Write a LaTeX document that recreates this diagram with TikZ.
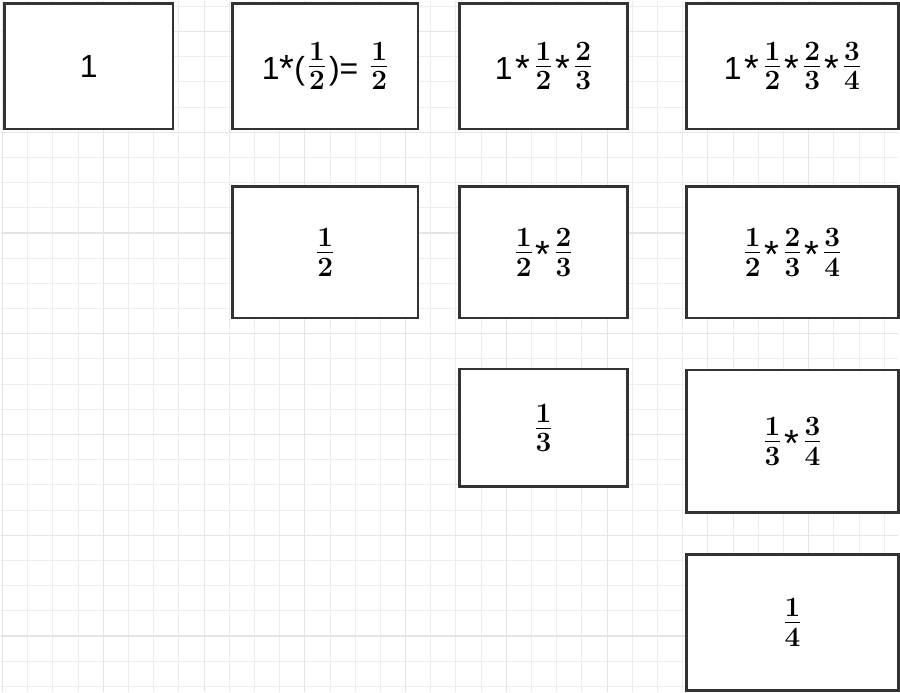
\documentclass[tikz,border=0pt]{standalone}
\usepackage{fix-cm}
\usepackage[no-math]{fontspec}
\setmainfont{Liberation Sans}
\usetikzlibrary{positioning}
\newcommand{\bfrac}[2]{{\fontsize{40}{44}\selectfont\raisebox{3pt}{$\frac{\mathbf{#1}}{\mathbf{#2}}$}}}
\newcommand{\tms}{\hspace{3pt}\raisebox{-2pt}{\fontsize{38}{38}\selectfont*}\hspace{4pt}}

\begin{document}
\begin{tikzpicture}[
  x=1pt, y=-1pt,
  cell/.style={draw=black!80, line width=2.6pt, fill=white, inner sep=0pt,
               anchor=north west, align=center, font=\fontsize{32}{38}\selectfont},
  minorline/.style={draw=black!7, line width=1pt},
  majorline/.style={draw=black!10, line width=1.2pt},
]

% === Background grid ===
\fill[white] (0,0) rectangle (900,693);
\foreach \i in {0,...,35} \draw[minorline] ({2+25.25*\i},0) -- ({2+25.25*\i},693);
\foreach \j in {-1,...,26} \draw[minorline] (0,{31+25.25*\j}) -- (900,{31+25.25*\j});
\foreach \i in {0,...,8} \draw[majorline] ({2+101*\i},0) -- ({2+101*\i},693);
\foreach \j in {0,...,6} \draw[majorline] (0,{31+101*\j}) -- (900,{31+101*\j});

% === Row 1 ===
\node[cell, minimum width=169pt, minimum height=126pt] (a1) at (2.5,1.5) {1};
\node[cell, minimum width=186pt, minimum height=126pt] (b1) at (231,1.5)
  {1\raisebox{-2pt}{\fontsize{38}{38}\selectfont*}(\hspace{3pt}\bfrac12\hspace{3pt})=\hspace{12pt}\bfrac12};
\node[cell, minimum width=168pt, minimum height=126pt] (c1) at (459,1.5)
  {1\tms\bfrac12\tms\bfrac23};
\node[cell, minimum width=213pt, minimum height=126pt] (d1) at (686,1.5)
  {1\tms\bfrac12\tms\bfrac23\tms\bfrac34};

% === Row 2 ===
\node[cell, minimum width=186pt, minimum height=132pt] (b2) at (231,185) {\bfrac12};
\node[cell, minimum width=168pt, minimum height=132pt] (c2) at (459,185)
  {\bfrac12\tms\bfrac23};
\node[cell, minimum width=213pt, minimum height=132pt] (d2) at (686,185)
  {\bfrac12\tms\bfrac23\tms\bfrac34};

% === Row 3 ===
\node[cell, minimum width=168pt, minimum height=118pt] (c3) at (459,368) {\bfrac13};
\node[cell, minimum width=213pt, minimum height=143pt] (d3) at (686,369)
  {\bfrac13\tms\bfrac34};

% === Row 4 ===
\node[cell, minimum width=213pt, minimum height=136pt] (d4) at (686,554) {\bfrac14};

\useasboundingbox (0,0) rectangle (900,693);
\end{tikzpicture}
\end{document}
